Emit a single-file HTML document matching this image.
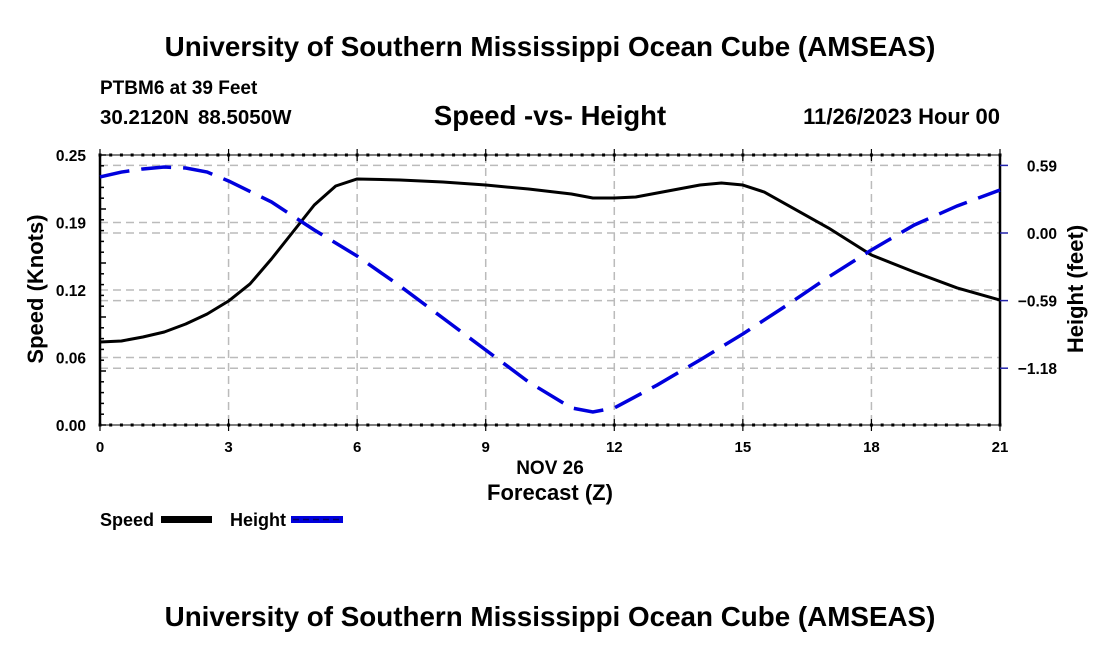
<!DOCTYPE html>
<html><head><meta charset="utf-8"><style>
body{margin:0;background:#fff}
svg text{font-family:"Liberation Sans",Arial,sans-serif;font-weight:bold;fill:#000}
</style></head><body>
<svg id="chart" width="1100" height="650" viewBox="0 0 1100 650" xmlns="http://www.w3.org/2000/svg">
<text x="550" y="56" font-size="27.8" text-anchor="middle">University of Southern Mississippi Ocean Cube (AMSEAS)</text>
<text x="100" y="94" font-size="19">PTBM6 at 39 Feet</text>
<text x="100" y="124" font-size="20.5">30.2120N</text>
<text x="198" y="124" font-size="20.5">88.5050W</text>
<text x="550" y="125" font-size="27.5" text-anchor="middle">Speed -vs- Height</text>
<text x="1000" y="124" font-size="22" text-anchor="end">11/26/2023 Hour 00</text>
<g id="grid"></g>
<g id="axes"></g>
<g id="series"></g>
<text x="550" y="474" font-size="19" text-anchor="middle">NOV 26</text>
<text x="550" y="500" font-size="22" text-anchor="middle">Forecast (Z)</text>
<text x="43" y="289" font-size="22" text-anchor="middle" transform="rotate(-90 43 289)">Speed (Knots)</text>
<text x="1083" y="289" font-size="22" text-anchor="middle" transform="rotate(-90 1083 289)">Height (feet)</text>
<g>
<text x="100" y="526" font-size="18">Speed</text>
<rect x="161" y="516" width="51" height="7" fill="#000"/>
<text x="230" y="526" font-size="18">Height</text>
<rect x="291" y="516" width="52" height="7" fill="#0000dd"/>
<line x1="293" y1="519.5" x2="341" y2="519.5" stroke="#000066" stroke-width="1.5" stroke-dasharray="6,4"/>
</g>
<text x="550" y="626" font-size="27.8" text-anchor="middle">University of Southern Mississippi Ocean Cube (AMSEAS)</text>
</svg>
<script>
const speedHours=[0,0.5,1,1.5,2,2.5,3,3.5,4,4.5,5,5.5,6,7,8,9,10,11,11.5,12,12.5,13,14,14.5,15,15.5,16,17,18,19,20,21];
const speedValues=[0.0769,0.0778,0.0815,0.0861,0.0935,0.1028,0.1148,0.1306,0.1537,0.1787,0.2037,0.2213,0.2278,0.2269,0.2250,0.2222,0.2185,0.2139,0.2102,0.2102,0.2111,0.2148,0.2222,0.2241,0.2222,0.2157,0.2046,0.1824,0.1574,0.1417,0.1269,0.1157];
const heightHours=[0,0.5,1,1.5,2,2.5,3,4,5,6,7,8,9,10,11,11.5,12,13,14,15,16,17,18,19,20,21];
const heightValues=[0.489,0.532,0.559,0.576,0.567,0.532,0.454,0.271,0.026,-0.201,-0.463,-0.742,-1.021,-1.30,-1.527,-1.562,-1.527,-1.327,-1.108,-0.881,-0.637,-0.384,-0.148,0.070,0.236,0.375];
const xTicks=[0,3,6,9,12,15,18,21];
const leftTicks=[0,0.0625,0.125,0.1875,0.25];
const leftTickLabels=["0.00","0.06","0.12","0.19","0.25"];
const rightTicks=[0.59,0,-0.59,-1.18];
const rightTickLabels=["0.59","0.00","\u22120.59","\u22121.18"];
const L=100,R=1000,T=155,B=425;
const xS=h=>L+h/21*(R-L);
const yS=v=>B-v/0.25*(B-T);
const yH=v=>233-v/0.59*67.6;
const NS="http://www.w3.org/2000/svg";
function mk(tag,attrs,parent){const e=document.createElementNS(NS,tag);for(const k in attrs)e.setAttribute(k,attrs[k]);parent.appendChild(e);return e;}
const grid=document.getElementById('grid'),axes=document.getElementById('axes'),series=document.getElementById('series');
const gs={stroke:'#bbb','stroke-width':1.5,'stroke-dasharray':'8,5'};
xTicks.forEach(h=>{if(h>0&&h<21){const l=mk('line',Object.assign({x1:xS(h),x2:xS(h),y1:T,y2:B},gs),grid);}});
leftTicks.forEach(v=>{if(v>0&&v<0.25){const l=mk('line',Object.assign({x1:L,x2:R,y1:yS(v),y2:yS(v)},gs),grid);}});
rightTicks.forEach(v=>{const l=mk('line',Object.assign({x1:L,x2:R,y1:yH(v),y2:yH(v)},gs),grid);});
[T,B].forEach(y=>{mk('line',{x1:L,y1:y,x2:R,y2:y,stroke:'#000','stroke-width':1},axes);
for(let i=0;i<=84;i++){const x=L+i*(R-L)/84;mk('line',{x1:x-1.5,x2:x+1.5,y1:y,y2:y,stroke:'#000','stroke-width':3},axes);}});
const la=mk('line',{x1:L,y1:T,x2:L,y2:B,stroke:'#000','stroke-width':2.5},axes);


const ra=mk('line',{x1:R,y1:T,x2:R,y2:B,stroke:'#000','stroke-width':2.5},axes);


for(let i=0;i<=25;i++){const y=B-i*(B-T)/25;mk('line',{x1:L,x2:L+(i%5==0?6:4),y1:y,y2:y,stroke:'#000','stroke-width':1.5},axes);}
xTicks.forEach(h=>{mk('line',{x1:xS(h),x2:xS(h),y1:B-6,y2:B+6,stroke:'#000','stroke-width':1.2},axes);mk('line',{x1:xS(h),x2:xS(h),y1:T-6,y2:T+6,stroke:'#000','stroke-width':1.2},axes);const t=mk('text',{x:xS(h),y:B+27,'font-size':15,'text-anchor':'middle'},axes);t.textContent=h;});
leftTicks.forEach((v,i)=>{const t=mk('text',{x:L-14,y:yS(v)+6,'font-size':15.5,'text-anchor':'end'},axes);t.textContent=leftTickLabels[i];});
rightTicks.forEach((v,i)=>{mk('line',{x1:R,x2:R+8,y1:yH(v),y2:yH(v),stroke:'#2222aa','stroke-width':1.5},axes);const t=mk('text',{x:R+57,y:yH(v)+6,'font-size':15.5,'text-anchor':'end'},axes);t.textContent=rightTickLabels[i];});
const sp=mk('polyline',{points:speedHours.map((h,i)=>xS(h)+','+yS(speedValues[i])).join(' '),fill:'none',stroke:'#000','stroke-width':3,'stroke-linejoin':'round'},series);


const hp=mk('polyline',{points:heightHours.map((h,i)=>xS(h)+','+yH(heightValues[i])).join(' '),fill:'none',stroke:'#0000dd','stroke-width':3.5,'stroke-dasharray':'30,12'},series);


</script>
</body></html>
